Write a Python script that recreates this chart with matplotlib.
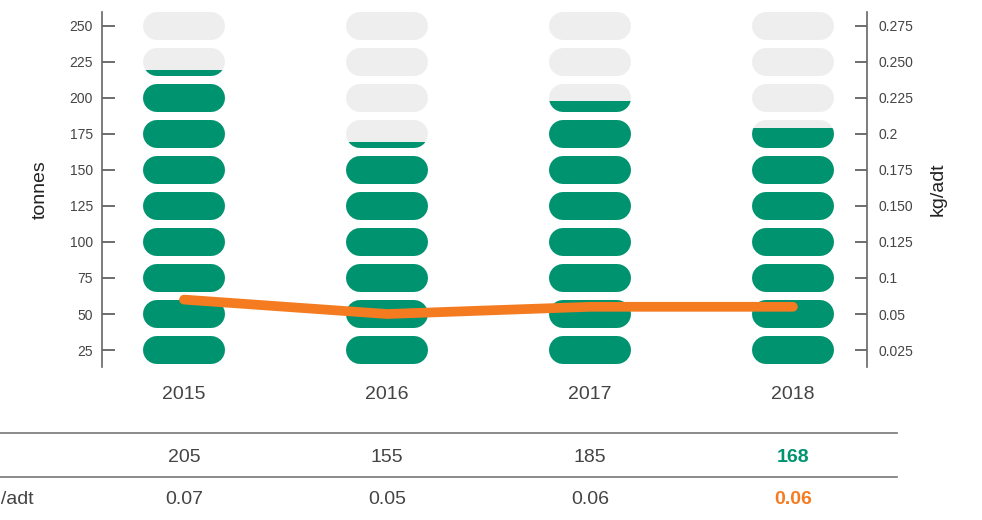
import matplotlib.pyplot as plt
from matplotlib.patches import Rectangle
from matplotlib.lines import Line2D
from matplotlib.transforms import blended_transform_factory

plt.rcParams['font.family'] = ['Liberation Sans', 'DejaVu Sans']

years = ["2015", "2016", "2017", "2018"]
tonnes = [205, 155, 185, 168]
kg_per_adt = [0.07, 0.05, 0.06, 0.06]
tonne_ticks = [25, 50, 75, 100, 125, 150, 175, 200, 225, 250]
kg_tick_labels = ["0.025", "0.05", "0.1", "0.125", "0.150", "0.175",
                  "0.2", "0.225", "0.250", "0.275"]

GREEN = "#00936F"
EMPTY = "#EEEEEE"
ORANGE = "#F47B20"
TEXT = "#444444"
STEP = 25  # tonnes per pill

W, H, DPI = 982, 520, 100
fig = plt.figure(figsize=(W / DPI, H / DPI), dpi=DPI)
ax = fig.add_axes([102 / W, (H - 367) / H, (867 - 102) / W, (367 - 12) / H])
ax.set_xlim(-0.404, 3.365)
ax.set_ylim(13.2, 259.7)

# pill size in data units, from pixel size
px_y = ax.transData.transform((0, STEP))[1] - ax.transData.transform((0, 0))[1]
px_x = ax.transData.transform((1, 0))[0] - ax.transData.transform((0, 0))[0]
pill_px = 28
pill_h = pill_px / px_y * STEP
half_len = (82 - pill_px) / 2 / px_x
lw = pill_px * 72 / DPI

for i, total in enumerate(tonnes):
    for level in tonne_ticks:
        xs = [i - half_len, i + half_len]
        ys = [level, level]
        ax.plot(xs, ys, color=EMPTY, lw=lw, solid_capstyle='round', zorder=2)
        frac = min(max((total - (level - STEP)) / STEP, 0), 1)
        if frac <= 0:
            continue
        fill, = ax.plot(xs, ys, color=GREEN, lw=lw, solid_capstyle='round', zorder=3)
        if frac < 1:
            bottom = level - pill_h / 2
            clip = Rectangle((i - 0.5, bottom), 1, pill_h * frac, transform=ax.transData)
            fill.set_clip_path(clip)

ax.set_yticks(tonne_ticks)
ax.set_xticks(range(len(years)), years)
ax.tick_params(axis='x', length=0, pad=14, labelsize=14, labelcolor=TEXT)
ax.tick_params(axis='y', direction='in', length=9, width=1.2, color="#555555",
               labelsize=10, labelcolor=TEXT, pad=6.5)
for side in ['top', 'right', 'bottom']:
    ax.spines[side].set_visible(False)
ax.spines['left'].set_color("#666666")
ax.spines['left'].set_linewidth(1.2)
ax.set_ylabel("tonnes", fontsize=14, color="#222222", labelpad=15)

# right axis: kg/adt, 0.05 sits at 50 t and 0.1 at 75 t
ax2 = ax.twinx()
lo, hi = ax.get_ylim()
ax2.set_ylim((lo - 25) / 500, (hi - 25) / 500)
ax2.set_yticks([(t - 25) / 500 for t in tonne_ticks], kg_tick_labels)
ax2.tick_params(axis='y', direction='in', length=9, width=1.2, color="#555555",
                labelsize=10, labelcolor=TEXT, pad=8)
for side in ['top', 'left', 'bottom']:
    ax2.spines[side].set_visible(False)
ax2.spines['right'].set_color("#666666")
ax2.spines['right'].set_linewidth(1.2)
ax2.set_ylabel("kg/adt", fontsize=14, color="#222222", labelpad=12)
ax2.plot(range(len(years)), kg_per_adt, color=ORANGE, lw=7,
         solid_capstyle='round', solid_joinstyle='round', zorder=5)

# table under the chart
for y in [433, 477]:
    fig.add_artist(Line2D([0, 897 / W], [(H - y) / H] * 2, color="#777777",
                          lw=1.2, transform=fig.transFigure))
tr = blended_transform_factory(ax.transData, fig.transFigure)
last = len(years) - 1
for i in range(len(years)):
    bold = i == last
    ax.text(i, (H - 457) / H, f"{tonnes[i]}", transform=tr, ha='center', va='center',
            fontsize=14, color=GREEN if bold else TEXT,
            fontweight='bold' if bold else 'normal', clip_on=False)
    ax.text(i, (H - 500) / H, f"{kg_per_adt[i]:.2f}", transform=tr, ha='center',
            va='center', fontsize=14, color=ORANGE if bold else TEXT,
            fontweight='bold' if bold else 'normal', clip_on=False)
fig.text(34 / W, (H - 500) / H, "kg/adt", ha='right', va='center',
         fontsize=14, color=TEXT)

fig.savefig("out.png", dpi=DPI)
